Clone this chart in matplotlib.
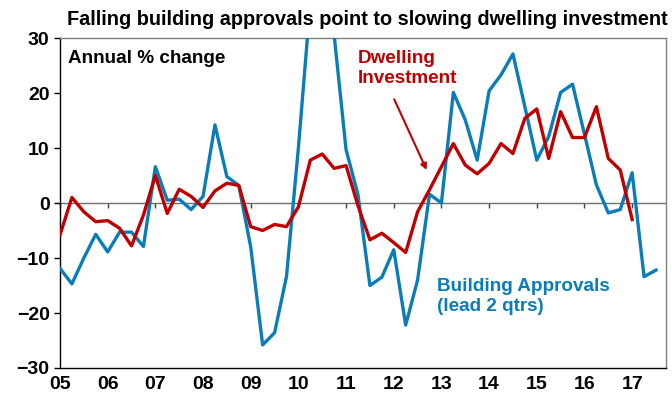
import matplotlib
matplotlib.use("Agg")
import matplotlib.pyplot as plt

plt.rcParams['font.family'] = ['Liberation Sans', 'DejaVu Sans']
plt.rcParams['font.weight'] = 'bold'

# Quartalsdaten ab 2005 Q1 (Jahreswert + Quartal/4)
Start_Jahr = 2005
Jahre = list(range(2005, 2018))
Jahres_Labels = ['05', '06', '07', '08', '09', '10', '11', '12', '13', '14', '15', '16', '17']

# Building approvals, lead 2 qtrs (annual % change)
Approvals = [
    -11.9, -14.7, -10.0, -5.7, -8.9, -5.3, -5.3, -7.9,
    6.6, 0.5, 0.7, -1.2, 1.2, 14.2, 4.8, 3.2,
    -8.0, -25.8, -23.6, -13.4, 10.0, 36.5, 42.0, 30.5,
    9.7, 1.5, -15.0, -13.5, -8.5, -22.2, -14.0, 1.6,
    0.0, 20.1, 15.1, 7.8, 20.4, 23.3, 27.1, 17.5,
    7.8, 12.1, 20.1, 21.6, 12.5, 3.3, -1.8, -1.2,
    5.5, -13.4, -12.2,
]

# Dwelling investment (annual % change)
Dwelling = [
    -5.8, 1.0, -1.6, -3.4, -3.2, -4.6, -7.8, -2.2,
    5.0, -1.9, 2.5, 1.2, -0.8, 2.2, 3.6, 3.2,
    -4.3, -5.0, -3.9, -4.3, -0.7, 7.8, 8.9, 6.3,
    6.8, -0.5, -6.7, -5.5, -7.2, -9.0, -1.6, 2.4,
    6.6, 10.8, 6.9, 5.3, 7.2, 10.8, 9.0, 15.4,
    17.1, 8.1, 16.6, 11.9, 11.9, 17.5, 8.1, 6.0,
    -3.0,
]

Zeit_Approvals = [Start_Jahr + i / 4 for i in range(len(Approvals))]
Zeit_Dwelling = [Start_Jahr + i / 4 for i in range(len(Dwelling))]

BLAU = '#0A7DB8'
ROT = '#C00000'

fig = plt.figure(figsize=(6.72, 4.0), dpi=100)
ax = fig.add_axes([60 / 672, 1 - 368 / 400, 606 / 672, 330 / 400])

ax.axhline(0, color='#707070', lw=1.0, zorder=1)
ax.plot(Zeit_Approvals, Approvals, color=BLAU, lw=2.4, zorder=3)
ax.plot(Zeit_Dwelling, Dwelling, color=ROT, lw=2.4, zorder=4)

ax.set_xlim(2005, 2017.71)
ax.set_ylim(-30, 30)
ax.set_yticks([-30, -20, -10, 0, 10, 20, 30])
ax.set_xticks(Jahre)
ax.set_xticklabels(Jahres_Labels)
ax.tick_params(axis='x', length=0, pad=6, labelsize=14)
ax.tick_params(axis='y', length=4.5, width=1, direction='out', pad=3, labelsize=14)

for seite in ['top', 'right']:
    ax.spines[seite].set_color('#808080')
for seite in ['left', 'bottom']:
    ax.spines[seite].set_color('black')
for seite in ax.spines:
    ax.spines[seite].set_linewidth(1.0)

# Jahres-Striche an der Nulllinie
null_achse = ax.secondary_xaxis(0.5)
null_achse.set_alignment('bottom')
null_achse.set_xticks(Jahre)
null_achse.tick_params(axis='x', direction='out', length=3.5, width=1, color='#404040', labelbottom=False)
null_achse.spines['bottom'].set_visible(False)

# Beschriftungen
fig.text(0.546, 0.952, 'Falling building approvals point to slowing dwelling investment',
         ha='center', va='center', fontsize=14.3, fontweight='bold')
ax.text(0.013, 0.939, 'Annual % change', transform=ax.transAxes,
        ha='left', va='center', fontsize=13.6, fontweight='bold')
ax.text(0.492, 0.908, 'Dwelling\nInvestment', transform=ax.transAxes,
        ha='left', va='center', fontsize=13.6, fontweight='bold', color=ROT, linespacing=1.2)
ax.text(0.622, 0.217, 'Building Approvals\n(lead 2 qtrs)', transform=ax.transAxes,
        ha='left', va='center', fontsize=13.6, fontweight='bold', color=BLAU, linespacing=1.2)

ax.annotate('', xy=(2012.69, 6.0), xytext=(2012.01, 18.85),
            arrowprops=dict(arrowstyle='-|>', color=ROT, lw=1.5, mutation_scale=9,
                            shrinkA=0, shrinkB=0))

plt.savefig('out.png', dpi=100)
